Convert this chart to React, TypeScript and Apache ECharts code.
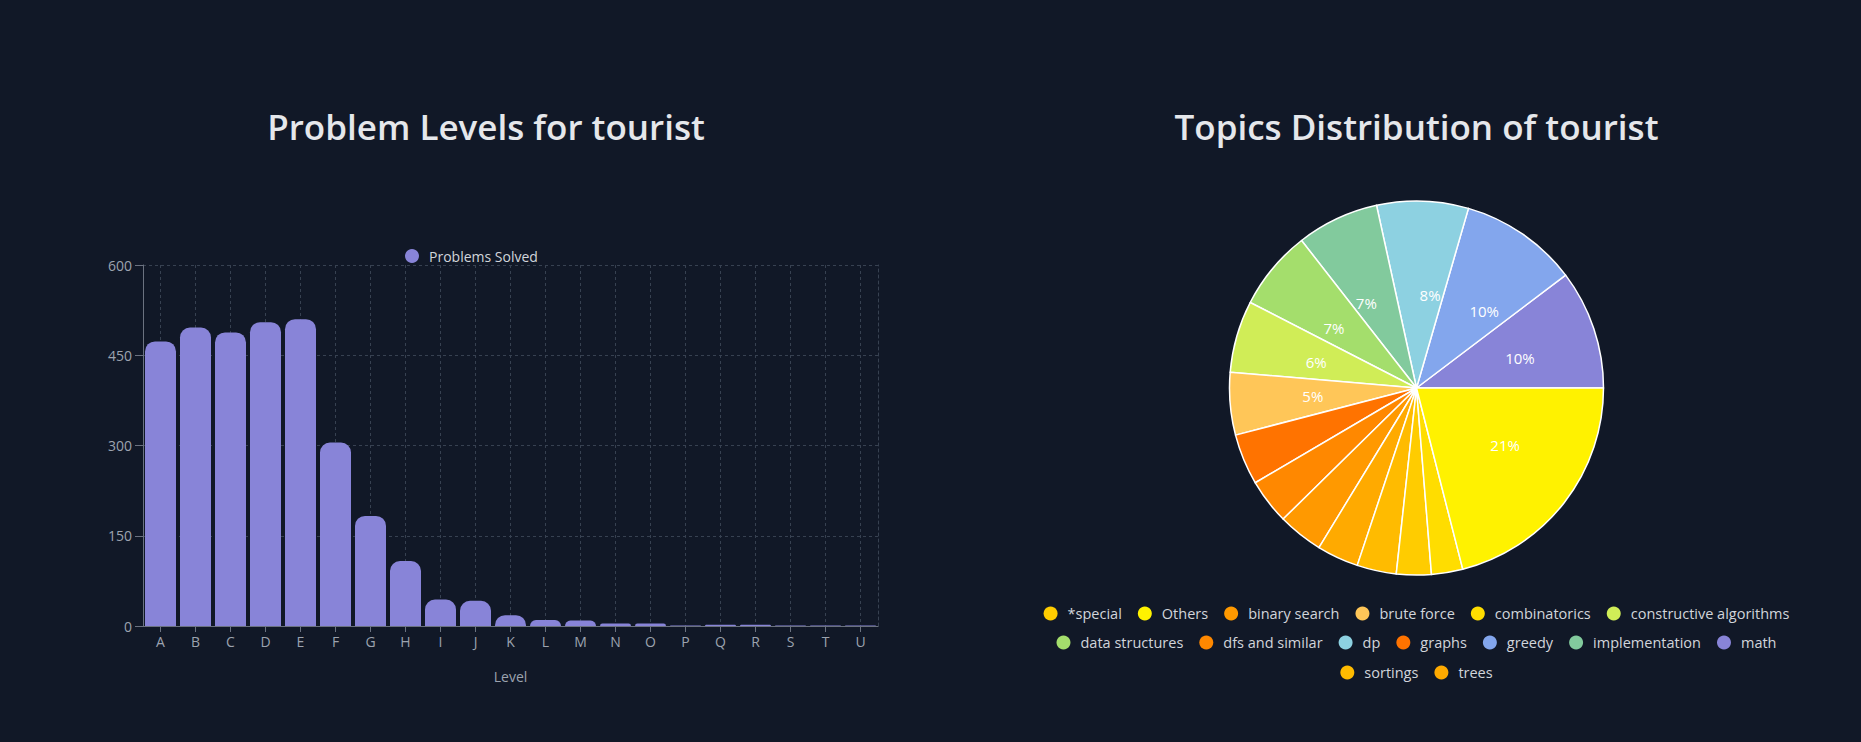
import React, { useEffect, useRef } from "react";
import * as echarts from "echarts";

// ---------- data ----------
const levelCategories = ["A", "B", "C", "D", "E", "F", "G", "H", "I", "J", "K", "L", "M", "N", "O", "P", "Q", "R", "S", "T", "U"];
const problemsSolved = [473, 496, 488, 505, 510, 305, 183, 108, 44, 42, 18, 10, 9, 4, 4, 1, 2, 2, 1, 1, 1];
const levelAxisMin = 0;
const levelAxisMax = 600;
const levelAxisStep = 150;

// pie slices in drawing order (counter-clockwise from 3 o'clock)
const topicNames = [
  "math",
  "greedy",
  "dp",
  "implementation",
  "data structures",
  "constructive algorithms",
  "brute force",
  "graphs",
  "dfs and similar",
  "binary search",
  "trees",
  "sortings",
  "*special",
  "combinatorics",
  "Others",
];
const topicCounts = [103, 102, 79, 71, 69, 62, 54, 44, 39, 39, 36, 34, 30, 27, 210];
const topicColors = [
  "#8884d8",
  "#83a6ed",
  "#8dd1e1",
  "#82ca9d",
  "#a4de6c",
  "#d0ed57",
  "#ffc658",
  "#ff7300",
  "#ff8800",
  "#ff9900",
  "#ffaa00",
  "#ffbb00",
  "#ffcc00",
  "#ffdd00",
  "#fff200",
];

const FONT = "Open Sans";
const BG = "#111827";

export default function App() {
  const leftRef = useRef<HTMLDivElement>(null);
  const rightRef = useRef<HTMLDivElement>(null);

  useEffect(() => {
    document.body.style.margin = "0";
    document.body.style.background = BG;
    if (!leftRef.current || !rightRef.current) return;

    const left = echarts.init(leftRef.current, null, { renderer: "svg" });
    const right = echarts.init(rightRef.current, null, { renderer: "svg" });

    const gridColor = "#374151";
    const axisColor = "#6b7280";
    const tickText = "#9ca3af";

    left.setOption({
      backgroundColor: BG,
      animation: false,
      textStyle: { fontFamily: FONT },
      title: {
        text: "Problem Levels for tourist",
        left: "center",
        top: 104,
        textStyle: { color: "#e5e7eb", fontSize: 35, fontWeight: 600, fontFamily: FONT },
      },
      legend: {
        data: ["Problems Solved"],
        left: 400,
        top: 244,
        icon: "circle",
        itemWidth: 24,
        itemHeight: 14,
        itemStyle: { borderWidth: 0 },
        textStyle: { color: "#d1d5db", fontSize: 14, fontFamily: FONT },
      },
      grid: { left: 143, top: 265, width: 735, height: 361, containLabel: false },
      xAxis: {
        type: "category",
        data: levelCategories,
        name: "Level",
        nameLocation: "middle",
        nameGap: 43,
        nameTextStyle: { color: tickText, fontSize: 14, fontFamily: FONT },
        axisLine: { show: true, lineStyle: { color: axisColor } },
        axisTick: { show: true, alignWithLabel: true, length: 6, lineStyle: { color: axisColor } },
        axisLabel: { color: tickText, fontSize: 14, margin: 8, interval: 0, fontFamily: FONT },
        splitLine: {
          show: true,
          alignWithLabel: true,
          interval: 0,
          lineStyle: { color: gridColor, type: [3, 3] },
        },
      },
      yAxis: [
        {
          type: "value",
          min: levelAxisMin,
          max: levelAxisMax,
          interval: levelAxisStep,
          axisLine: { show: true, lineStyle: { color: axisColor } },
          axisTick: { show: true, length: 8, lineStyle: { color: axisColor } },
          axisLabel: { color: tickText, fontSize: 14, margin: 11, fontFamily: FONT },
          splitLine: { show: true, lineStyle: { color: gridColor, type: [3, 3] } },
        },
        {
          type: "value",
          position: "right",
          min: levelAxisMin,
          max: levelAxisMax,
          interval: levelAxisStep,
          axisLine: { show: true, lineStyle: { color: gridColor, type: [3, 3] } },
          axisTick: { show: false },
          axisLabel: { show: false },
          splitLine: { show: false },
        },
      ],
      series: [
        {
          type: "bar",
          name: "Problems Solved",
          data: problemsSolved,
          barWidth: 31,
          itemStyle: { color: "#8884d8", borderRadius: [10, 10, 0, 0] },
          emphasis: { disabled: true },
        },
      ],
    });

    const total = topicCounts.reduce((a, b) => a + b, 0);
    const sortedNames = [...topicNames].sort();
    const legendRows = [sortedNames.slice(0, 6), sortedNames.slice(6, 13), sortedNames.slice(13)];
    const legendTops = [601, 630, 660];

    right.setOption({
      backgroundColor: BG,
      animation: false,
      textStyle: { fontFamily: FONT },
      title: {
        text: "Topics Distribution of tourist",
        left: "center",
        top: 104,
        textStyle: { color: "#e5e7eb", fontSize: 35, fontWeight: 600, fontFamily: FONT },
      },
      legend: legendRows.map((row, i) => ({
        data: row,
        left: "center",
        top: legendTops[i],
        icon: "circle",
        itemWidth: 24,
        itemHeight: 14,
        itemGap: 16,
        selectedMode: false,
        itemStyle: { borderWidth: 0 },
        textStyle: { color: "#d1d5db", fontSize: 14.5, fontFamily: FONT },
      })),
      series: [
        {
          type: "pie",
          center: ["50%", 388],
          radius: 187,
          startAngle: 0,
          clockwise: false,
          data: topicNames.map((n, i) => ({
            name: n,
            value: topicCounts[i],
            itemStyle: { color: topicColors[i] },
          })),
          itemStyle: { borderColor: "#ffffff", borderWidth: 1.5 },
          label: { show: false },
          labelLine: { show: false },
          emphasis: { disabled: true },
        },
        {
          type: "pie",
          center: ["50%", 388],
          radius: 93.5,
          startAngle: 0,
          clockwise: false,
          silent: true,
          avoidLabelOverlap: false,
          data: topicNames.map((n, i) => ({ name: n, value: topicCounts[i] })),
          itemStyle: { color: "rgba(0,0,0,0)", borderWidth: 0 },
          label: {
            show: true,
            position: "outside",
            color: "#ffffff",
            fontSize: 15,
            fontFamily: FONT,
            distanceToLabelLine: 0,
            formatter: (p: any) => {
              const pct = (p.value / total) * 100;
              return pct >= 5 ? `${Math.round(pct)}%` : "";
            },
          },
          labelLine: { show: false, length: 0, length2: 0 },
          emphasis: { disabled: true },
        },
      ],
    });

    return () => {
      left.dispose();
      right.dispose();
    };
  }, []);

  return (
    <div style={{ display: "flex", width: 1861, height: 742, background: BG, overflow: "hidden" }}>
      <div ref={leftRef} style={{ width: 972, height: 742 }} />
      <div ref={rightRef} style={{ width: 889, height: 742 }} />
    </div>
  );
}
